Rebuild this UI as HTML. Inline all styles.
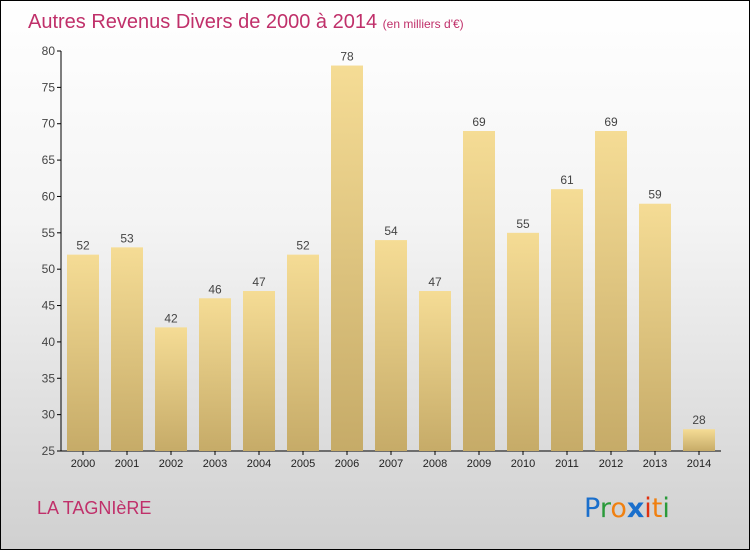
<!DOCTYPE html>
<html><head><meta charset="utf-8"><style>
body{margin:0}
#c{position:relative;width:748px;height:548px;border:1px solid #000;background:linear-gradient(#fff 0%,#f4f4f4 40%,#d0d0d0 100%);font-family:"Liberation Sans",sans-serif;overflow:hidden}
</style></head><body>
<div id="c">
<svg id="s" width="748" height="548" style="position:absolute;left:0;top:0">
<defs><linearGradient id="g" x1="0" y1="0" x2="0" y2="1"><stop offset="0" stop-color="#f5dc95"/><stop offset="1" stop-color="#c6ab68"/></linearGradient></defs>
<text x="27" y="27" font-size="20" fill="#c0306a">Autres Revenus Divers de 2000 à 2014 <tspan font-size="12">(en milliers d'€)</tspan></text>
<text x="36" y="513" font-size="18" fill="#c0306a">LA TAGNIèRE</text>
<g font-size="27" font-family="'DejaVu Sans',sans-serif"><text x="583" y="516"><tspan fill="#1a6fcc">P</tspan><tspan fill="#2a9a3a">r</tspan><tspan fill="#f08010">o</tspan><tspan fill="#1a6fcc" font-weight="bold">x</tspan><tspan fill="#e03010">i</tspan><tspan fill="#f08010">t</tspan><tspan fill="#2a9a3a">i</tspan></text></g>
<g id="plot"></g>
</svg>
</div>
<script>
const years=["2000","2001","2002","2003","2004","2005","2006","2007","2008","2009","2010","2011","2012","2013","2014"];
const values=[52,53,42,46,47,52,78,54,47,69,55,61,69,59,28];
const yTicks=[25,30,35,40,45,50,55,60,65,70,75,80];
const NS="http://www.w3.org/2000/svg";
const g=document.getElementById('plot');
const y=v=>450-(v-25)*400/55;
const x=i=>82+i*44;
function mk(t,a){const e=document.createElementNS(NS,t);for(const k in a)e.setAttribute(k,a[k]);g.appendChild(e);return e;}
let ax=mk('line',{x1:60,x2:60,y1:y(80),y2:450,stroke:'#000'});


let bx=mk('line',{x1:60,x2:720,y1:450,y2:450,stroke:'#000'});


yTicks.forEach(t=>{
  const l=mk('line',{x1:56,x2:60,y1:y(t),y2:y(t),stroke:'#000'});
  
  
  const tx=mk('text',{x:54,y:y(t)+4,'font-size':12,fill:'#444','text-anchor':'end'});
  tx.textContent=t;
  
  
});
years.forEach((yr,i)=>{
  const r=mk('rect',{x:x(i)-16,y:y(values[i]),width:32,height:450-y(values[i]),fill:'url(#g)'});
  
  
  const v=mk('text',{x:x(i),y:y(values[i])-5,'font-size':12,fill:'#444','text-anchor':'middle'});
  v.textContent=values[i];
  
  
  const tk=mk('line',{x1:x(i),x2:x(i),y1:450,y2:454,stroke:'#000'});
  
  
  const l=mk('text',{x:x(i),y:466,'font-size':11,fill:'#222','text-anchor':'middle'});
  l.textContent=yr;
  
  
});
</script>
</body></html>
